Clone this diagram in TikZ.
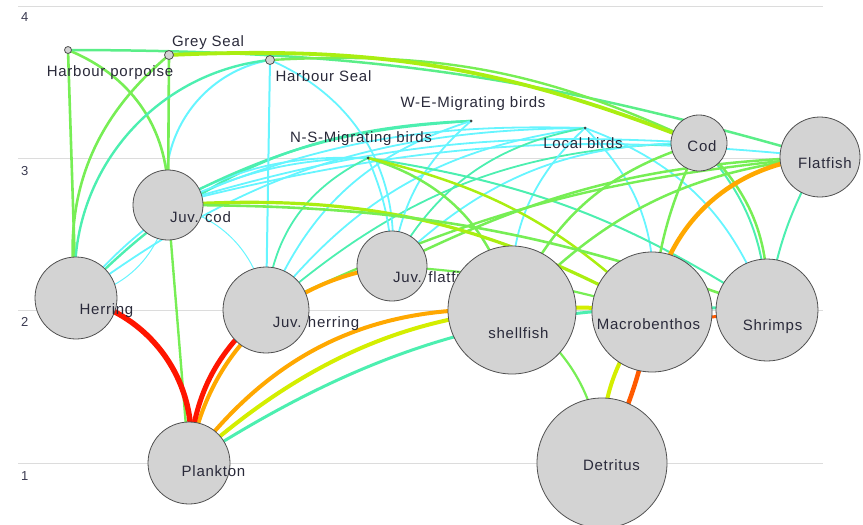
\documentclass[tikz,border=0pt]{standalone}
\usepackage{fontspec}
\newfontfamily\lblfont[LetterSpace=5]{Liberation Sans}
\pgfdeclarelayer{gridl}
\pgfdeclarelayer{edges}
\pgfsetlayers{gridl,edges,main}
\definecolor{cy}{HTML}{66F5FF}
\definecolor{aq}{HTML}{4CEFB0}
\definecolor{aqg}{HTML}{5AEE88}
\definecolor{gr}{HTML}{77EE55}
\definecolor{yg}{HTML}{AAEE11}
\definecolor{ye}{HTML}{D4EE00}
\definecolor{org}{HTML}{FFA800}
\definecolor{ro}{HTML}{FF5A00}
\definecolor{rd}{HTML}{FF1500}
\definecolor{nodef}{HTML}{D3D3D3}
\definecolor{nodeb}{HTML}{505050}
\definecolor{dotc}{HTML}{404040}
\definecolor{txt}{HTML}{2A2A3A}
\definecolor{axc}{HTML}{3A3A50}
\definecolor{gridc}{HTML}{DCDCDC}
\begin{document}
\begin{tikzpicture}[x=1pt,y=-1pt,
  sp/.style={circle,draw=nodeb,fill=nodef,line width=0.8pt,inner sep=0pt,minimum size=#1},
  dot/.style={circle,fill=dotc,inner sep=0pt,minimum size=3pt},
  lbl/.style={font=\lblfont\fontsize{15}{18}\selectfont,text=txt,inner sep=0pt,anchor=base},
  ax/.style={font=\lblfont\fontsize{13}{15}\selectfont,text=axc,inner sep=0pt,anchor=base west},
  e/.style={line width=#1,line cap=round},
  up/.style={bend left=#1}, dn/.style={bend right=#1}]
\useasboundingbox (0,0) rectangle (863,525);
% grid
\begin{pgfonlayer}{gridl}
\draw[gridc,line width=1pt] (18,6) -- (823,6);
\draw[gridc,line width=1pt] (18,158) -- (823,158);
\draw[gridc,line width=1pt] (18,310) -- (823,310);
\draw[gridc,line width=1pt] (18,463) -- (823,463);
\end{pgfonlayer}
\node[ax] (a4) at (21,21.7) {4};
\node[ax] (a3) at (21,175) {3};
\node[ax] (a2) at (21,326.7) {2};
\node[ax] (a1) at (21,480) {1};
% nodes
\node[sp=7pt] (hp) at (68,50) {};
\node[lbl] (hpl) at (110,76) {Harbour porpoise};
\node[sp=9pt] (gs) at (169,55) {};
\node[lbl] (gsl) at (208,46.5) {Grey Seal};
\node[sp=9pt] (hs) at (270,60) {};
\node[lbl] (hsl) at (323.5,81) {Harbour Seal};
\node[dot] (we) at (471,121) {};
\node[lbl] (wel) at (473,107) {W-E-Migrating birds};
\node[dot] (ns) at (368,158) {};
\node[lbl] (nsl) at (361,142) {N-S-Migrating birds};
\node[dot] (lb) at (585,128) {};
\node[lbl] (lbl2) at (583,148) {Local birds};
\node[sp=56pt] (cod) at (699,143) {};
\node[lbl] (codl) at (702,151) {Cod};
\node[sp=80pt] (flat) at (820,157) {};
\node[lbl] (flatl) at (825,168) {Flatfish};
\node[sp=70pt] (jc) at (168,205) {};
\node[lbl] (jcl) at (200.5,222) {Juv. cod};
\node[sp=82pt] (her) at (76,298) {};
\node[lbl] (herl) at (106.5,314) {Herring};
\node[sp=86pt] (jh) at (266,310) {};
\node[lbl] (jhl) at (316,327) {Juv. herring};
\node[sp=70pt] (jf) at (392,266) {};
\node[lbl,anchor=base west] (jfl) at (393,282) {Juv. flatfish};
\node[sp=128pt] (shell) at (512,310) {};
\node[lbl] (shelll) at (518.5,338) {shellfish};
\node[sp=120pt] (macro) at (652,312) {};
\node[lbl] (macrol) at (648.5,329) {Macrobenthos};
\node[sp=102pt] (shr) at (767,310) {};
\node[lbl] (shrl) at (772.5,330) {Shrimps};
\node[sp=82pt] (plk) at (189,463) {};
\node[lbl] (plkl) at (213.5,476) {Plankton};
\node[sp=130pt] (det) at (602,463) {};
\node[lbl] (detl) at (611.5,470.7) {Detritus};
% edges
\begin{pgfonlayer}{edges}
% birds and thin cyan
\draw[cy,e=1.8] (her.center) to[up=25] (ns.center);
\draw[aq,e=2.4] (her.center) to[up=22] (we.center);
\draw[cy,e=1.8] (her.center) to[up=18] (lb.center);
\draw[cy,e=1.8] (jc.center) to[up=15] (ns.center);
\draw[aq,e=2.4] (jc.center) to[up=12] (we.center);
\draw[cy,e=1.8] (jc.center) to[up=12] (lb.center);
\draw[cy,e=1.8] (jc.center) to[up=10] (cod.center);
\draw[cy,e=1.8] (jc.center) to[up=10] (flat.center);
\draw[aq,e=1.8] (jh.center) to[up=30] (ns.center);
\draw[cy,e=1.8] (jh.center) to[up=25] (we.center);
\draw[cy,e=1.8] (jh.center) to[up=22] (lb.center);
\draw[aq,e=1.8] (jh.center) to[up=20] (cod.center);
\draw[cy,e=1.8] (ns.center) to[up=10] (jf.center);
\draw[cy,e=1.8] (jf.center) to[up=20] (we.center);
\draw[aq,e=1.8] (jf.center) to[up=25] (lb.center);
\draw[cy,e=1.8] (jf.center) to[up=22] (cod.center);
\draw[cy,e=1.8] (hs.center) to[up=36] (jf.center);
\draw[cy,e=1.8] (shell.center) to[up=25] (lb.center);
\draw[cy,e=1.8] (lb.center) to[up=25] (macro.center);
\draw[cy,e=1.8] (lb.center) to[up=25] (shr.center);
\draw[aq,e=2] (ns.center) to[up=12] (shr.center);
\draw[aq,e=2] (cod.center) to[up=20] (shr.center);
\draw[aq,e=2] (shr.center) to[up=10] (flat.center);
\draw[cy,e=1] (her.center) to[dn=35] (jc.center);
\draw[cy,e=1] (jc.center) to[up=35] (jh.center);
\draw[cy,e=2] (jh.center) -- (hs.center);
\draw[cy,e=2] (jc.center) to[up=45] (hs.center);
% top predators
\draw[gr,e=2.6] (hp.center) -- (her.center);
\draw[gr,e=2.6] (hp.center) to[up=35] (jc.center);
\draw[aqg,e=2.5] (hp.center) to[up=8] (flat.center);
\draw[gr,e=2.6] (her.center) to[up=29] (gs.center);
\draw[gr,e=2.6] (gs.center) -- (jc.center);
\draw[aq,e=2.4] (her.center) to[up=45] (hs.center);
\draw[gr,e=2.4] (hs.center) to[up=14] (cod.center);
\draw[yg,e=3.8] (gs.center) to[up=12] (cod.center);
% fish / benthos greens
\draw[gr,e=2.5] (ns.center) to[up=30] (shell.center);
\draw[yg,e=2.5] (ns.center) to[up=15] (macro.center);
\draw[gr,e=2.5] (shell.center) to[up=25] (cod.center);
\draw[gr,e=2.5] (macro.center) to[up=10] (cod.center);
\draw[gr,e=2.5] (cod.center) to[up=25] (shr.center);
\draw[gr,e=2.5] (shell.center) to[up=20] (flat.center);
\draw[gr,e=2.5] (jf.center) to[up=12] (flat.center);
\draw[gr,e=2.4] (jh.center) to[up=10] (flat.center);
\draw[gr,e=2.2] (jf.center) to[up=6] (macro.center);
\draw[yg,e=3.2] (jc.center) to[up=16] (macro.center);
\draw[gr,e=2.6] (jc.center) to[up=10] (shr.center);
\draw[org,e=4.5] (macro.center) to[up=38] (flat.center);
% plankton / detritus
\draw[gr,e=2.4] (jc.center) -- (plk.center);
\draw[aq,e=3] (plk.center) to[up=18] (shr.center);
\draw[ye,e=4] (plk.center) to[up=24] (macro.center);
\draw[org,e=4] (plk.center) to[up=28] (shell.center);
\draw[org,e=4] (plk.center) to[up=37] (jf.center);
\draw[rd,e=5] (plk.center) to[up=23] (jh.center);
\draw[rd,e=5.5] (her.center) to[up=44] (plk.center);
\draw[gr,e=2.2] (shell.center) to[up=25] (det.center);
\draw[ye,e=4] (det.center) to[up=20] (macro.center);
\draw[ro,e=4.5] (det.center) to[dn=8] (macro.center);
\draw[ro,e=3] (macro.center) to[dn=10] (shr.center);
\end{pgfonlayer}
\end{tikzpicture}
\end{document}
